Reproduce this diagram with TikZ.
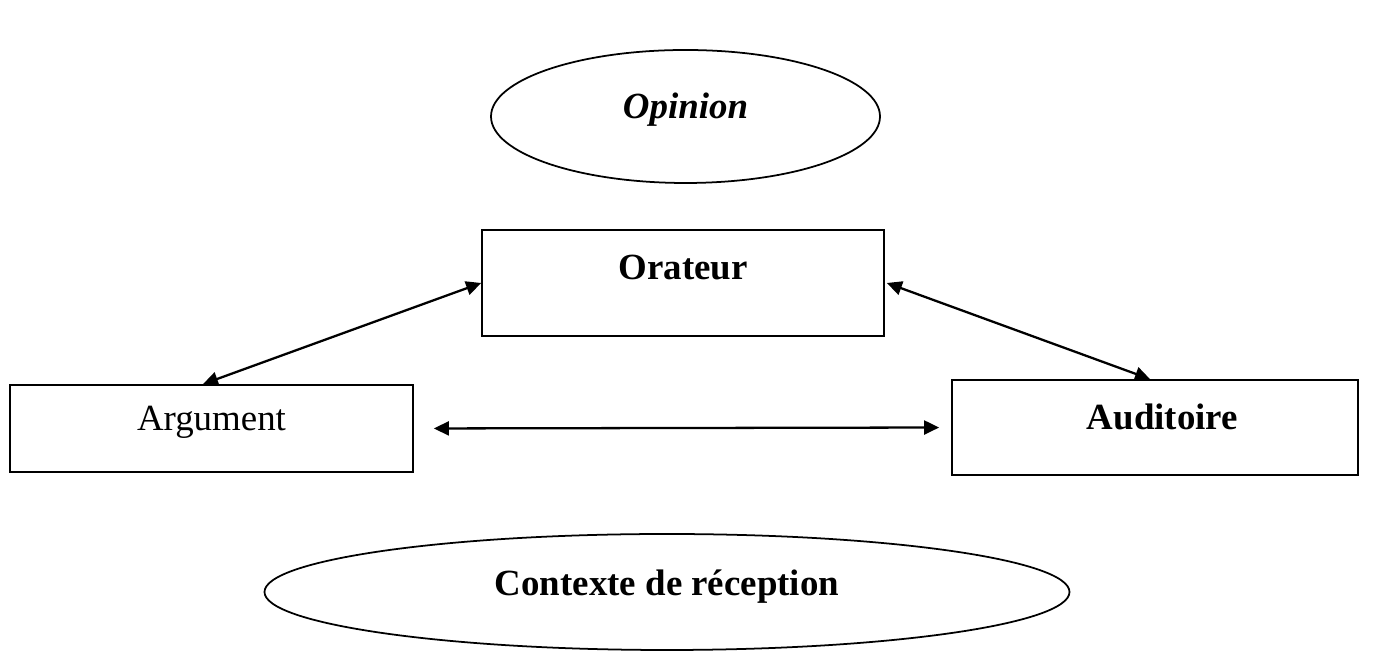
\documentclass[tikz,border=0pt]{standalone}
\usepackage{fontspec}
\setmainfont{Liberation Serif}
\usetikzlibrary{shapes.geometric,arrows.meta}
\tikzset{
  boite/.style={draw,line width=1pt,inner sep=0pt},
  bulle/.style={draw,ellipse,line width=1pt,inner sep=0pt},
  fleche/.style={line width=1.3pt,{Triangle[length=0.3cm,width=0.28cm]}-{Triangle[length=0.3cm,width=0.28cm]}},
  texte/.style={font=\fontsize{21}{25}\selectfont}
}
\begin{document}
\begin{tikzpicture}
\useasboundingbox (0,0) rectangle (27.46,13.06);
\node[bulle,minimum width=7.78cm,minimum height=2.66cm] (opinion) at (13.71,10.73) {};
\node[texte,font=\fontsize{21}{25}\selectfont\bfseries\itshape] at ([yshift=0.13cm]opinion.center) {Opinion};
\node[boite,minimum width=8.04cm,minimum height=2.12cm] (orateur) at (13.66,7.40) {};
\node[texte,font=\fontsize{21}{25}\selectfont\bfseries] at ([yshift=-0.76cm]orateur.north) {Orateur};
\node[boite,minimum width=8.06cm,minimum height=1.74cm] (argument) at (4.23,4.49) {};
\node[texte] at ([yshift=0.12cm]argument.center) {Argument};
\node[boite,minimum width=8.12cm,minimum height=1.90cm] (auditoire) at (23.10,4.51) {};
\node[texte,font=\fontsize{21}{25}\selectfont\bfseries] at ([xshift=0.15cm,yshift=0.22cm]auditoire.center) {Auditoire};
\node[bulle,minimum width=16.1cm,minimum height=2.32cm] (contexte) at (13.34,1.22) {};
\node[texte,font=\fontsize{21}{25}\selectfont\bfseries] at ([yshift=0.1cm]contexte.center) {Contexte de réception};
% liens
\draw[fleche] (orateur.west) -- ([xshift=-0.17cm]argument.north);
\draw[fleche] ([xshift=0.04cm]orateur.east) -- ([xshift=-0.1cm]auditoire.north);
\draw[fleche,shorten <=0.4cm,shorten >=0.24cm] (argument.east) -- (auditoire.west);
\end{tikzpicture}
\end{document}
